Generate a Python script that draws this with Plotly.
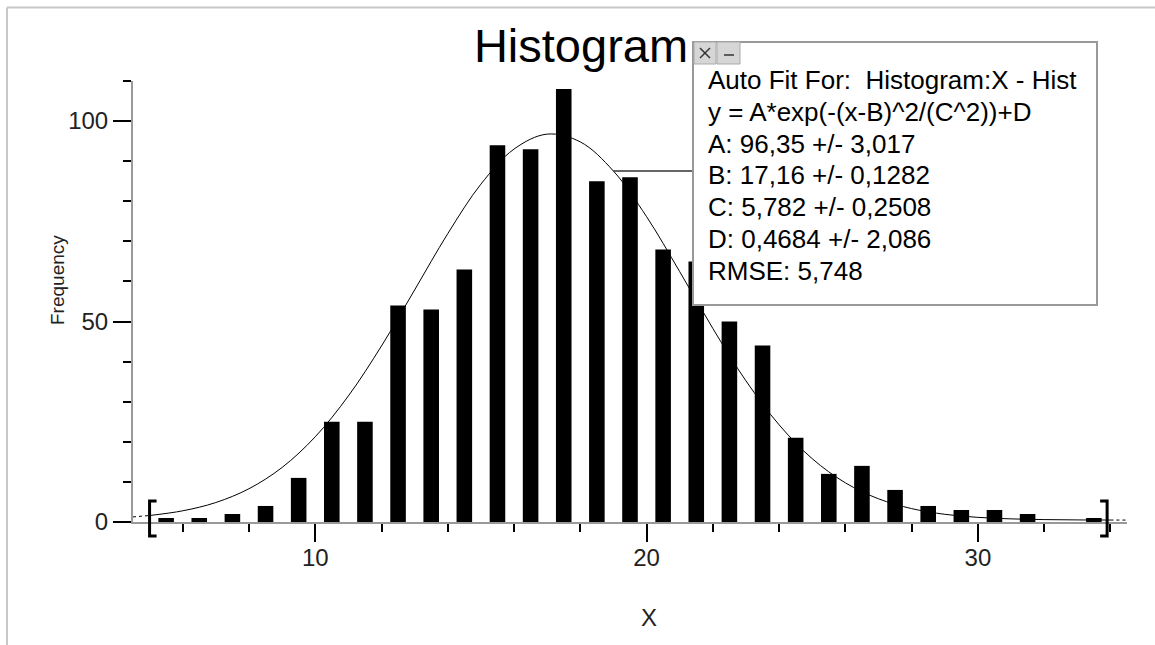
import plotly.graph_objects as go

# histogram bins (centres) and counts
bin_centers = [5.5, 6.5, 7.5, 8.5, 9.5, 10.5, 11.5, 12.5, 13.5, 14.5, 15.5, 16.5, 17.5, 18.5, 19.5,
               20.5, 21.5, 22.5, 23.5, 24.5, 25.5, 26.5, 27.5, 28.5, 29.5, 30.5, 31.5, 32.5, 33.5]
counts = [1, 1, 2, 4, 11, 25, 25, 54, 53, 63, 94, 93, 108, 85, 86,
          68, 65, 50, 44, 21, 12, 14, 8, 4, 3, 3, 2, 0, 1]

# fitted gaussian curve
fit_x = [5, 6, 7, 8, 9, 10, 11, 12, 13, 14, 15, 16, 17, 18, 19, 20, 21, 22, 23, 24, 25,
         26, 27, 28, 29, 30, 31, 32, 33, 34]
fit_y = [1.62, 2.79, 4.86, 8.30, 13.61, 21.25, 31.44, 43.92, 57.89, 71.93, 84.27, 93.02,
         96.75, 94.81, 87.54, 76.16, 62.45, 48.28, 35.20, 24.24, 15.79, 9.77, 5.79, 3.34,
         1.92, 1.16, 0.78, 0.60, 0.52, 0.49]
# extrapolated (dotted) ends outside the fit range
ext_left_x = [4.5, 5]
ext_left_y = [1.27, 1.62]
ext_right_x = [34, 34.5]
ext_right_y = [0.49, 0.48]
fit_range = [5, 33.9]

fit_lines = [
    "Auto Fit For:  Histogram:X - Hist",
    "y = A*exp(-(x-B)^2/(C^2))+D",
    "A: 96,35 +/- 3,017",
    "B: 17,16 +/- 0,1282",
    "C: 5,782 +/- 0,2508",
    "D: 0,4684 +/- 2,086",
    "RMSE: 5,748",
]

W, H = 1155, 645
L, R, T, B = 133, 28, 81, 123
FONT = "Liberation Sans, Arial, sans-serif"


def px(x):
    return (x - L) / (W - L - R)


def py(y):
    return (H - B - y) / (H - T - B)


def dx(pix):
    # pixel width -> x data units
    return pix * 30 / (W - L - R)


fig = go.Figure()
fig.add_trace(go.Bar(
    x=bin_centers, y=counts, width=0.47,
    marker=dict(color='black', line=dict(width=0)),
))
fig.add_trace(go.Scatter(
    x=fit_x, y=fit_y, mode='lines',
    line=dict(color='black', width=1, shape='spline'),
))
for ex, ey in [(ext_left_x, ext_left_y), (ext_right_x, ext_right_y)]:
    fig.add_trace(go.Scatter(
        x=ex, y=ey, mode='lines',
        line=dict(color='black', width=1, dash='dot'),
    ))

shapes = []
# outer frame
shapes.append(dict(type='line', xref='paper', yref='paper', x0=px(7), x1=px(1160),
                   y0=py(7.5), y1=py(7.5), line=dict(color='#c8c8c8', width=2)))
shapes.append(dict(type='line', xref='paper', yref='paper', x0=px(7), x1=px(7),
                   y0=py(7.5), y1=py(650), line=dict(color='#c8c8c8', width=2)))
# fit range brackets
arm = dx(7)
for xb, d in [(fit_range[0], 1), (fit_range[1], -1)]:
    shapes.append(dict(
        type='path', xref='x', yref='paper',
        path=f"M {xb + d * arm},{py(501)} L {xb},{py(501)} L {xb},{py(536)} L {xb + d * arm},{py(536)}",
        line=dict(color='black', width=3),
    ))
# leader line from curve to the fit box
shapes.append(dict(type='line', xref='x', yref='y', x0=fit_x[14], y0=fit_y[14],
                   x1=4.5 + dx(693 - L), y1=fit_y[14],
                   line=dict(color='#333', width=1.5), layer='above'))
# fit result box
shapes.append(dict(type='rect', xref='paper', yref='paper', x0=px(693), x1=px(1097),
                   y0=py(305), y1=py(42), fillcolor='white',
                   line=dict(color='#999', width=2), layer='above'))
# close / minimise buttons
for x0, x1 in [(694, 716), (717, 740)]:
    shapes.append(dict(type='rect', xref='paper', yref='paper', x0=px(x0), x1=px(x1),
                       y0=py(64), y1=py(42), fillcolor='#d6d6d6',
                       line=dict(color='#aaa', width=1), layer='above'))
# close cross and minimise dash
for (x0, y0, x1, y1) in [(700, 48, 710, 58), (700, 58, 710, 48), (724, 55, 734, 55)]:
    shapes.append(dict(type='line', xref='paper', yref='paper', x0=px(x0), x1=px(x1),
                       y0=py(y0), y1=py(y1), line=dict(color='#333', width=1.5), layer='above'))

annotations = []
for i, line in enumerate(fit_lines):
    annotations.append(dict(
        xref='paper', yref='paper', x=px(706), y=py(80 + i * 31.8),
        xanchor='left', yanchor='middle', showarrow=False, text=line,
        font=dict(family=FONT, size=26, color='black'),
    ))
annotations.append(dict(xref='paper', yref='paper', x=px(57), y=py(280), text='Frequency',
                        textangle=-90, showarrow=False, xanchor='center', yanchor='middle',
                        font=dict(family=FONT, size=19, color='#222')))
annotations.append(dict(xref='paper', yref='paper', x=px(649), y=py(617), text='X',
                        showarrow=False, xanchor='center', yanchor='middle',
                        font=dict(family=FONT, size=24, color='#222')))

fig.update_layout(
    width=W, height=H,
    margin=dict(l=L, r=R, t=T, b=B),
    plot_bgcolor='white', paper_bgcolor='white',
    showlegend=False,
    title=dict(text='Histogram', x=581 / W, xanchor='center', y=1 - 46 / H, yanchor='middle',
               font=dict(family=FONT, size=47, color='black')),
    font=dict(family=FONT, color='#222'),
    xaxis=dict(range=[4.5, 34.5], showgrid=False, zeroline=False,
               showline=True, linecolor='#999', linewidth=2,
               tickvals=[10, 20, 30], ticks='outside', ticklen=18, tickwidth=2, tickcolor='black',
               minor=dict(dtick=2, tick0=0, ticks='outside', ticklen=8, tickwidth=2, tickcolor='black'),
               ticklabelstandoff=-5,
               tickfont=dict(family=FONT, size=24, color='#222')),
    yaxis=dict(range=[0, 110], showgrid=False, zeroline=False,
               showline=True, linecolor='#999', linewidth=2,
               tickvals=[0, 50, 100], ticks='outside', ticklen=18, tickwidth=2, tickcolor='black',
               minor=dict(dtick=10, tick0=0, ticks='outside', ticklen=8, tickwidth=2, tickcolor='black'),
               tickfont=dict(family=FONT, size=24, color='#222')),
    shapes=shapes,
    annotations=annotations,
)

fig.write_html("out.html", config={'displayModeBar': False},
               post_script="document.body.style.margin='0';document.body.style.overflow='hidden';")
